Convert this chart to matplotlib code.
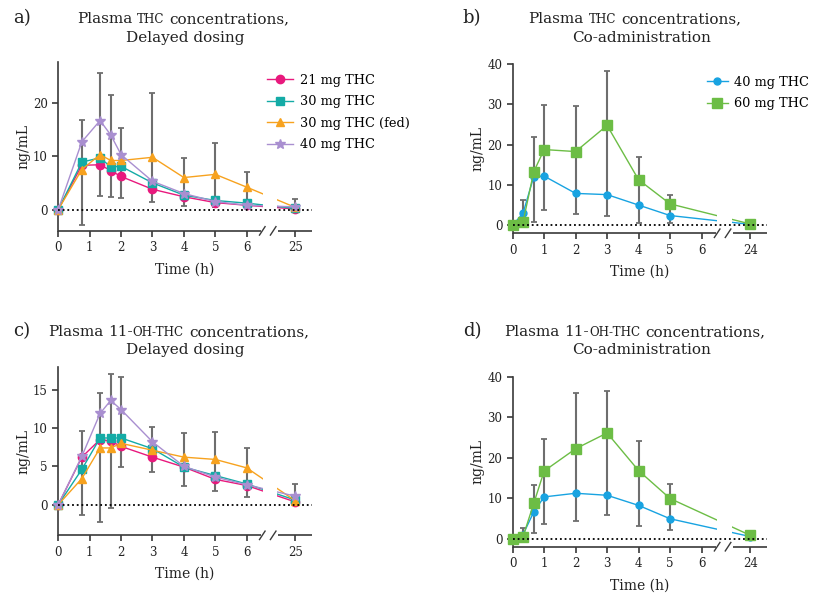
import numpy as np
import matplotlib
matplotlib.use("Agg")
import matplotlib.pyplot as plt
from matplotlib.patches import Rectangle

plt.rcParams['font.family'] = ['DejaVu Serif', 'DejaVu Sans']

# --- data -----------------------------------------------------------------
# delayed dosing (panels a, c)
t_delay = [0, 0.75, 1.33, 1.67, 2, 3, 4, 5, 6, 25]
thc_21 = [0, 8.3, 8.4, 7.3, 6.2, 3.8, 2.4, 1.3, 0.8, 0.1]
thc_30 = [0, 8.9, 9.7, 8.0, 8.1, 5.0, 2.7, 1.7, 1.2, 0.2]
thc_30fed = [0, 7.5, 10.3, 9.2, 9.2, 9.8, 6.0, 6.6, 4.2, 0.4]
thc_40 = [0, 12.7, 16.7, 14.0, 10.3, 5.3, 3.0, 1.5, 0.8, 0.5]
a_err_t = [0.75, 1.33, 1.67, 2, 3, 4, 5, 6, 25]
a_err_lo = [-2.9, 2.5, 2.4, 2.1, 1.4, 0.6, 0.4, 0.8, 0.1]
a_err_hi = [16.8, 25.7, 21.4, 15.3, 21.8, 9.7, 12.4, 7.0, 1.9]

oh_21 = [0, 6.2, 8.5, 8.3, 7.6, 6.2, 4.9, 3.3, 2.5, 0.35]
oh_30 = [0, 4.6, 8.7, 8.7, 8.7, 7.3, 4.9, 3.8, 2.7, 0.6]
oh_30fed = [0, 3.4, 7.4, 7.4, 8.0, 7.1, 6.2, 5.9, 4.8, 0.5]
oh_40 = [0, 6.3, 11.9, 13.6, 12.4, 8.2, 5.0, 3.6, 2.6, 1.1]
c_err_t = [0.75, 1.33, 1.67, 2, 3, 4, 5, 6, 25]
c_err_lo = [-1.35, -2.3, -0.4, 4.9, 4.3, 2.4, 1.8, 1.0, 0.3]
c_err_hi = [9.6, 14.6, 17.1, 16.7, 10.1, 9.3, 9.5, 7.4, 2.7]

# co-administration (panels b, d)
t_co = [0, 0.33, 0.67, 1, 2, 3, 4, 5, 24]
co_thc_40 = [0, 3.0, 12.1, 12.2, 7.9, 7.6, 5.0, 2.4, 0.2]
co_thc_60 = [0, 0.8, 13.3, 18.8, 18.3, 24.8, 11.3, 5.3, 0.3]
b_err_t = [0.33, 0.67, 1, 2, 3, 4, 5]
b_err_lo = [-0.5, 0.8, 3.7, 2.7, 2.4, 0.6, 0.5]
b_err_hi = [6.2, 22.0, 29.9, 29.6, 38.4, 16.9, 7.6]

co_oh_40 = [0, 1.0, 6.6, 10.3, 11.2, 10.7, 8.2, 4.9, 0.5]
co_oh_60 = [0, 0.5, 8.7, 16.7, 22.2, 26.1, 16.8, 9.9, 0.8]
d_err_t = [0.33, 0.67, 1, 2, 3, 4, 5]
d_err_lo = [-0.3, 1.3, 3.5, 4.3, 5.8, 3.2, 2.0]
d_err_hi = [2.6, 13.3, 24.7, 35.9, 36.5, 24.2, 13.6]

PINK = '#e8197d'
TEAL = '#14aba6'
ORANGE = '#f7a21e'
PURPLE = '#a98fd0'
BLUE = '#18a3e1'
GREEN = '#6cbd45'
GREY = '#6e6e6e'
AXC = '#3a3a3a'
TXT = '#222222'

delay_styles = [
    ('21 mg THC', PINK, 'o', 6),
    ('30 mg THC', TEAL, 's', 6),
    ('30 mg THC (fed)', ORANGE, '^', 6),
    ('40 mg THC', PURPLE, '*', 7),
]
co_styles = [
    ('40 mg THC', BLUE, 'o', 5),
    ('60 mg THC', GREEN, 's', 6.5),
]

GAP = (0.806, 0.862)   # axis break, axes fraction


def break_scale(late):
    # linear up to 6.6 h, then the long tail squeezed to the late sample
    k = 0.95 / (late - 6.6)

    def fwd(t):
        t = np.asarray(t, dtype=float)
        return np.where(t <= 6.6, t, 6.6 + (t - 6.6) * k)

    def inv(u):
        u = np.asarray(u, dtype=float)
        return np.where(u <= 6.6, u, 6.6 + (u - 6.6) / k)
    return fwd, inv


def setup(ax, late, ylim, yticks):
    fwd, inv = break_scale(late)
    ax.set_xscale('function', functions=(fwd, inv))
    ax.set_xlim(0, float(inv(8.07)))
    ax.set_ylim(*ylim)
    ax.set_xticks([0, 1, 2, 3, 4, 5, 6, late])
    ax.set_xticklabels(['0', '1', '2', '3', '4', '5', '6', str(late)])
    ax.set_yticks(yticks)
    for s in ['top', 'right', 'bottom']:
        ax.spines[s].set_visible(False)
    ax.spines['left'].set_color(AXC)
    ax.spines['left'].set_linewidth(1.2)
    ax.tick_params(colors=AXC, width=1.2, length=4, labelsize=8.5,
                   labelcolor=TXT)
    ax.minorticks_off()
    # white band hides the lines inside the break
    ax.add_patch(Rectangle((GAP[0], 0), GAP[1] - GAP[0], 1, transform=ax.transAxes,
                           facecolor='white', edgecolor='none', zorder=5))
    # broken bottom axis
    for x0, x1 in [(0, GAP[0] - 0.005), (GAP[1] + 0.005, 1)]:
        ax.plot([x0, x1], [0, 0], color=AXC, lw=1.2, transform=ax.transAxes,
                clip_on=False, zorder=6, solid_capstyle='butt')
    for xb in [GAP[0] - 0.002, GAP[1] - 0.015]:
        ax.plot([xb - 0.01, xb + 0.012], [-0.025, 0.025], color=AXC, lw=1.0,
                transform=ax.transAxes, clip_on=False, zorder=6)
    ax.axhline(0, color='black', lw=1.3, ls=(0, (1, 1.6)), zorder=7)
    ax.set_xlabel('Time (h)', fontsize=10, labelpad=6, color=TXT)
    ax.set_ylabel('ng/mL', fontsize=10, labelpad=2, color=TXT)


def draw(ax, t, series, styles, et, elo, ehi):
    elo = np.array(elo)
    ehi = np.array(ehi)
    ax.errorbar(et, elo, yerr=[np.zeros_like(elo), ehi - elo], fmt='none',
                ecolor=GREY, elinewidth=1.5, capsize=2.5, capthick=1.3,
                zorder=2, clip_on=False)
    for y, (lab, col, mk, ms) in zip(series, styles):
        ax.plot(t, y, color=col, marker=mk, ms=ms, lw=1.0, label=lab,
                zorder=3, clip_on=False)


def caps_line(fig, xc, y, words, size):
    # one centred line; each word is a list of (text, small_caps) runs
    renderer = fig.canvas.get_renderer()
    fw = fig.bbox.width
    space = 0.32 * size / 72 * fig.dpi / fw
    placed = []
    for word in words:
        runs = []
        for s, sc in word:
            t = fig.text(0, y, s, fontsize=size * (0.78 if sc else 1.0),
                         va='baseline', ha='left', color=TXT)
            runs.append((t, t.get_window_extent(renderer).width / fw))
        placed.append(runs)
    total = sum(w for runs in placed for _, w in runs) + space * (len(placed) - 1)
    x = xc - total / 2
    for runs in placed:
        for t, w in runs:
            t.set_x(x)
            x += w
        x += space


fig = plt.figure(figsize=(8.22, 5.95), dpi=100)

ax_a = fig.add_axes([0.0709, 0.612, 0.3083, 0.284])
ax_b = fig.add_axes([0.6237, 0.608, 0.309, 0.284])
ax_c = fig.add_axes([0.0709, 0.1003, 0.3083, 0.2834])
ax_d = fig.add_axes([0.6237, 0.0812, 0.309, 0.2857])

setup(ax_a, 25, (-4, 27.7), [0, 10, 20])
draw(ax_a, t_delay, [thc_21, thc_30, thc_30fed, thc_40], delay_styles,
     a_err_t, a_err_lo, a_err_hi)

setup(ax_b, 24, (-2, 40), [0, 10, 20, 30, 40])
draw(ax_b, t_co, [co_thc_40, co_thc_60], co_styles, b_err_t, b_err_lo, b_err_hi)

setup(ax_c, 25, (-4, 18), [0, 5, 10, 15])
draw(ax_c, t_delay, [oh_21, oh_30, oh_30fed, oh_40], delay_styles,
     c_err_t, c_err_lo, c_err_hi)

setup(ax_d, 24, (-2, 40), [0, 10, 20, 30, 40])
draw(ax_d, t_co, [co_oh_40, co_oh_60], co_styles, d_err_t, d_err_lo, d_err_hi)

ax_a.legend(loc='upper left', bbox_to_anchor=(0.322, 0.88),
            bbox_transform=fig.transFigure, frameon=False, fontsize=9.3,
            handlelength=2.0, handletextpad=0.5, labelspacing=0.65,
            borderpad=0.2, borderaxespad=0)
ax_b.legend(loc='upper left', bbox_to_anchor=(0.857, 0.877),
            bbox_transform=fig.transFigure, frameon=False, fontsize=9.3,
            handlelength=1.6, handletextpad=0.5, labelspacing=0.65,
            borderpad=0.2, borderaxespad=0)

# panel titles
thc_title = [[('Plasma', False)], [('THC', True)], [('concentrations,', False)]]
oh_title = [[('Plasma', False)], [('11-', False), ('OH-THC', True)],
            [('concentrations,', False)]]
titles = [
    ('a)', 0.016, 0.961, thc_title, 0.223, 'Delayed dosing', 0.225, 0.930),
    ('b)', 0.563, 0.961, thc_title, 0.772, 'Co-administration', 0.781, 0.930),
    ('c)', 0.016, 0.435, oh_title, 0.217, 'Delayed dosing', 0.225, 0.405),
    ('d)', 0.563, 0.435, oh_title, 0.772, 'Co-administration', 0.781, 0.405),
]
for letter, lx, ly, words, x1, line2, x2, y2 in titles:
    fig.text(lx, ly, letter, fontsize=13, va='baseline', ha='left', color=TXT)
    caps_line(fig, x1, ly, words, 11.0)
    fig.text(x2, y2, line2, fontsize=11.0, va='baseline', ha='center', color=TXT)

fig.savefig('out.png', dpi=100)
